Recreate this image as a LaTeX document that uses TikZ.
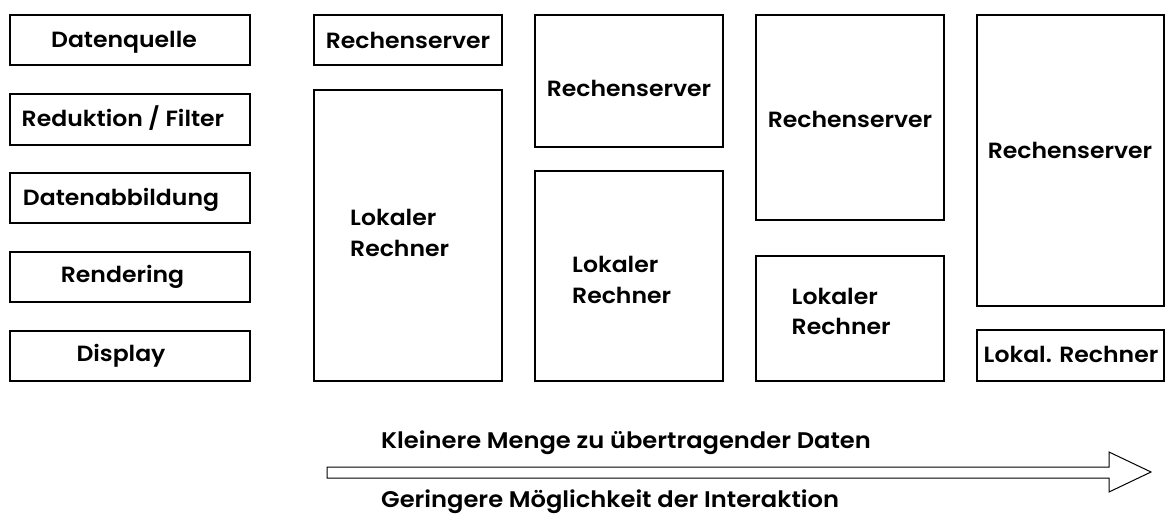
\documentclass[tikz,border=0pt]{standalone}
\usepackage{fontspec}
\IfFontExistsTF{Poppins SemiBold}
  {\newfontfamily\labelfont{Poppins SemiBold}[FakeStretch=1.07]}
  {\newfontfamily\labelfont{Poppins}[FakeStretch=1.07]}
\begin{document}
\begin{tikzpicture}[x=1pt,y=-1pt,
  box/.style={draw, line width=1.6pt, inner sep=0pt, outer sep=0pt},
  lbl/.style={font=\fontsize{22}{30}\labelfont, inner sep=0pt, anchor=base},
  lbll/.style={lbl, anchor=base west},
  trendlbl/.style={lbll, font=\fontsize{22.6}{30}\labelfont}]
  \useasboundingbox (0,0) rectangle (1165,516);

  % pipeline stages
  \node[box, minimum width=240pt, minimum height=50pt] (quelle) at (130,40) {};
  \node[box, minimum width=240pt, minimum height=51pt] (filter) at (130,119.5) {};
  \node[box, minimum width=240pt, minimum height=50pt] (abbild) at (130,198) {};
  \node[box, minimum width=240pt, minimum height=50pt] (render) at (130,277) {};
  \node[box, minimum width=240pt, minimum height=50pt] (display) at (130,356) {};
  \node[lbl] (tquelle) at (124,48) {Datenquelle};
  \node[lbl] (tfilter) at (123,127) {Reduktion / Filter};
  \node[lbl] (tabbild) at (121,205) {Datenabbildung};
  \node[lbl] (trender) at (122.5,282) {Rendering};
  \node[lbl] (tdisplay) at (121,361) {Display};

  % splitting variant 1
  \node[box, minimum width=188pt, minimum height=50pt] (s1) at (408,40) {};
  \node[box, minimum width=188pt, minimum height=291pt] (l1) at (408,235.5) {};
  \node[lbl] (ts1) at (408,49) {Rechenserver};
  \node[lbll] (tl1a) at (350,225.5) {Lokaler};
  \node[lbll] (tl1b) at (350,256.5) {Rechner};

  % splitting variant 2
  \node[box, minimum width=188pt, minimum height=132pt] (s2) at (629,81) {};
  \node[box, minimum width=188pt, minimum height=210pt] (l2) at (629,276) {};
  \node[lbl] (ts2) at (629,96.5) {Rechenserver};
  \node[lbll] (tl2a) at (572,272.5) {Lokaler};
  \node[lbll] (tl2b) at (572,303.5) {Rechner};

  % splitting variant 3
  \node[box, minimum width=188pt, minimum height=205pt] (s3) at (850,117.5) {};
  \node[box, minimum width=188pt, minimum height=125pt] (l3) at (850,318.5) {};
  \node[lbl] (ts3) at (850,127.5) {Rechenserver};
  \node[lbll] (tl3a) at (791.5,304) {Lokaler};
  \node[lbll] (tl3b) at (791.5,334.5) {Rechner};

  % splitting variant 4
  \node[box, minimum width=187pt, minimum height=291pt] (s4) at (1070.5,160.5) {};
  \node[box, minimum width=187pt, minimum height=51pt] (l4) at (1070.5,355.5) {};
  \node[lbl] (ts4) at (1070,159) {Rechenserver};
  \node[lbl] (tl4) at (1071,362.5) {Lokal. Rechner};

  % trend arrow
  \coordinate (a0) at (327,467);
  \coordinate (a1) at (1109,467);
  \coordinate (a2) at (1109,452);
  \coordinate (tip) at (1151,472);
  \coordinate (a3) at (1109,492);
  \coordinate (a4) at (1109,478);
  \coordinate (a5) at (327,478);
  \draw[line width=1pt, line join=miter] (a0) -- (a1) -- (a2) -- (tip) -- (a3) -- (a4) -- (a5) -- cycle;
  \node[trendlbl] (mehr) at (381,448) {Kleinere Menge zu übertragender Daten};
  \node[trendlbl] (weniger) at (381,507) {Geringere Möglichkeit der Interaktion};
\end{tikzpicture}
\end{document}
